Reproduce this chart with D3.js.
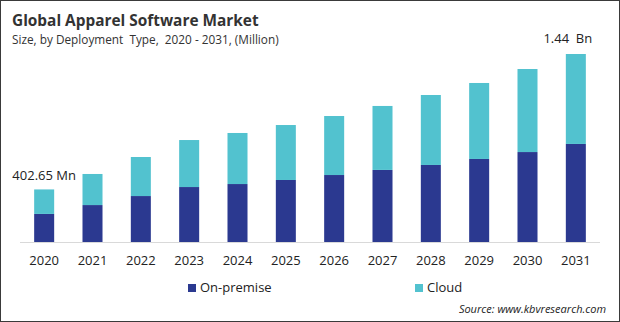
<!DOCTYPE html>
<html>
<head>
<meta charset="utf-8">
<script src="https://cdn.jsdelivr.net/npm/d3@7"></script>
<style>
  body { margin: 0; background: #fff; }
  svg { display: block; font-family: "Open Sans", sans-serif; }
</style>
</head>
<body>
<div id="chart"></div>
<script>
const years = ["2020", "2021", "2022", "2023", "2024", "2025", "2026", "2027", "2028", "2029", "2030", "2031"];
const onPremise = [215, 283, 352, 421, 444, 475, 513, 552, 590, 636, 689, 751];
const cloud = [187.65, 238, 299, 360, 391, 421, 452, 490, 536, 582, 636, 689];
const seriesNames = ["On-premise", "Cloud"];
const colors = ["#2b3990", "#52c2cf"];

const width = 620, height = 322;

let svg = d3.select("#chart")
    .append("svg")
    .attr("width", width)
    .attr("height", height);

// frame
svg.append("rect")
    .attr("x", 0.5).attr("y", 0.5)
    .attr("width", width - 1).attr("height", height - 1)
    .attr("fill", "#fff")
    .attr("stroke", "#3a3a3a");

svg.append("text")
    .attr("x", 12).attr("y", 26)
    .attr("font-size", "15.4px")
    .attr("font-weight", "bold")
    .attr("fill", "#333")
    .text("Global Apparel Software Market");

svg.append("text")
    .attr("x", 12).attr("y", 44)
    .attr("font-size", "11.8px")
    .attr("fill", "#333")
    .style("white-space", "pre")
    .text("Size, by Deployment  Type,  2020 - 2031, (Million)");

let x = d3.scaleBand().domain(years).range([20, 600]).paddingInner(0.586).paddingOuter(0.293);
let y = d3.scaleLinear().domain([0, 1440]).range([242, 54]);

let table = years.map((yr, i) => ({ year: yr, "On-premise": onPremise[i], "Cloud": cloud[i] }));
let stacked = d3.stack().keys(seriesNames)(table);

svg.append("g")
    .selectAll("g")
    .data(stacked)
    .enter()
    .append("g")
    .attr("fill", (d, i) => colors[i])
    .selectAll("rect")
    .data(d => d)
    .enter()
    .append("rect")
    .attr("x", d => x(d.data.year))
    .attr("y", d => y(d[1]))
    .attr("width", x.bandwidth())
    .attr("height", d => y(d[0]) - y(d[1]));

let axis = svg.append("g")
    .attr("transform", "translate(0,242)")
    .call(d3.axisBottom(x).tickSize(0).tickPadding(14));
axis.select(".domain").attr("stroke", "#d9d9d9").attr("d", "M20,0.5H600");
axis.selectAll("text")
    .attr("font-family", "Open Sans, sans-serif")
    .attr("font-size", "13px")
    .attr("fill", "#222");

// value labels
let first = table[0], last = table[table.length - 1];
svg.append("text")
    .attr("x", x(first.year) + x.bandwidth() / 2)
    .attr("y", y(first["On-premise"] + first["Cloud"]) - 9)
    .attr("text-anchor", "middle")
    .attr("font-size", "13px")
    .attr("fill", "#222")
    .text("402.65  Mn");

svg.append("text")
    .attr("x", x(last.year) + x.bandwidth() / 2 - 8)
    .attr("y", y(last["On-premise"] + last["Cloud"]) - 11)
    .attr("text-anchor", "middle")
    .attr("font-size", "13px")
    .attr("fill", "#222")
    .style("white-space", "pre")
    .text("1.44  Bn");

// legend
let legendX = [188, 415];
let legend = svg.append("g")
    .selectAll("g")
    .data(seriesNames)
    .enter()
    .append("g")
    .attr("transform", (d, i) => "translate(" + legendX[i] + ",284)");
legend.append("rect")
    .attr("width", 8).attr("height", 8)
    .attr("fill", (d, i) => colors[i]);
legend.append("text")
    .attr("x", 12).attr("y", 8)
    .attr("font-size", "13px")
    .attr("fill", "#222")
    .text(d => d);

svg.append("text")
    .attr("x", 606).attr("y", 313)
    .attr("text-anchor", "end")
    .attr("font-size", "11px")
    .attr("font-style", "italic")
    .attr("fill", "#222")
    .text("Source: www.kbvresearch.com");
</script>
</body>
</html>
